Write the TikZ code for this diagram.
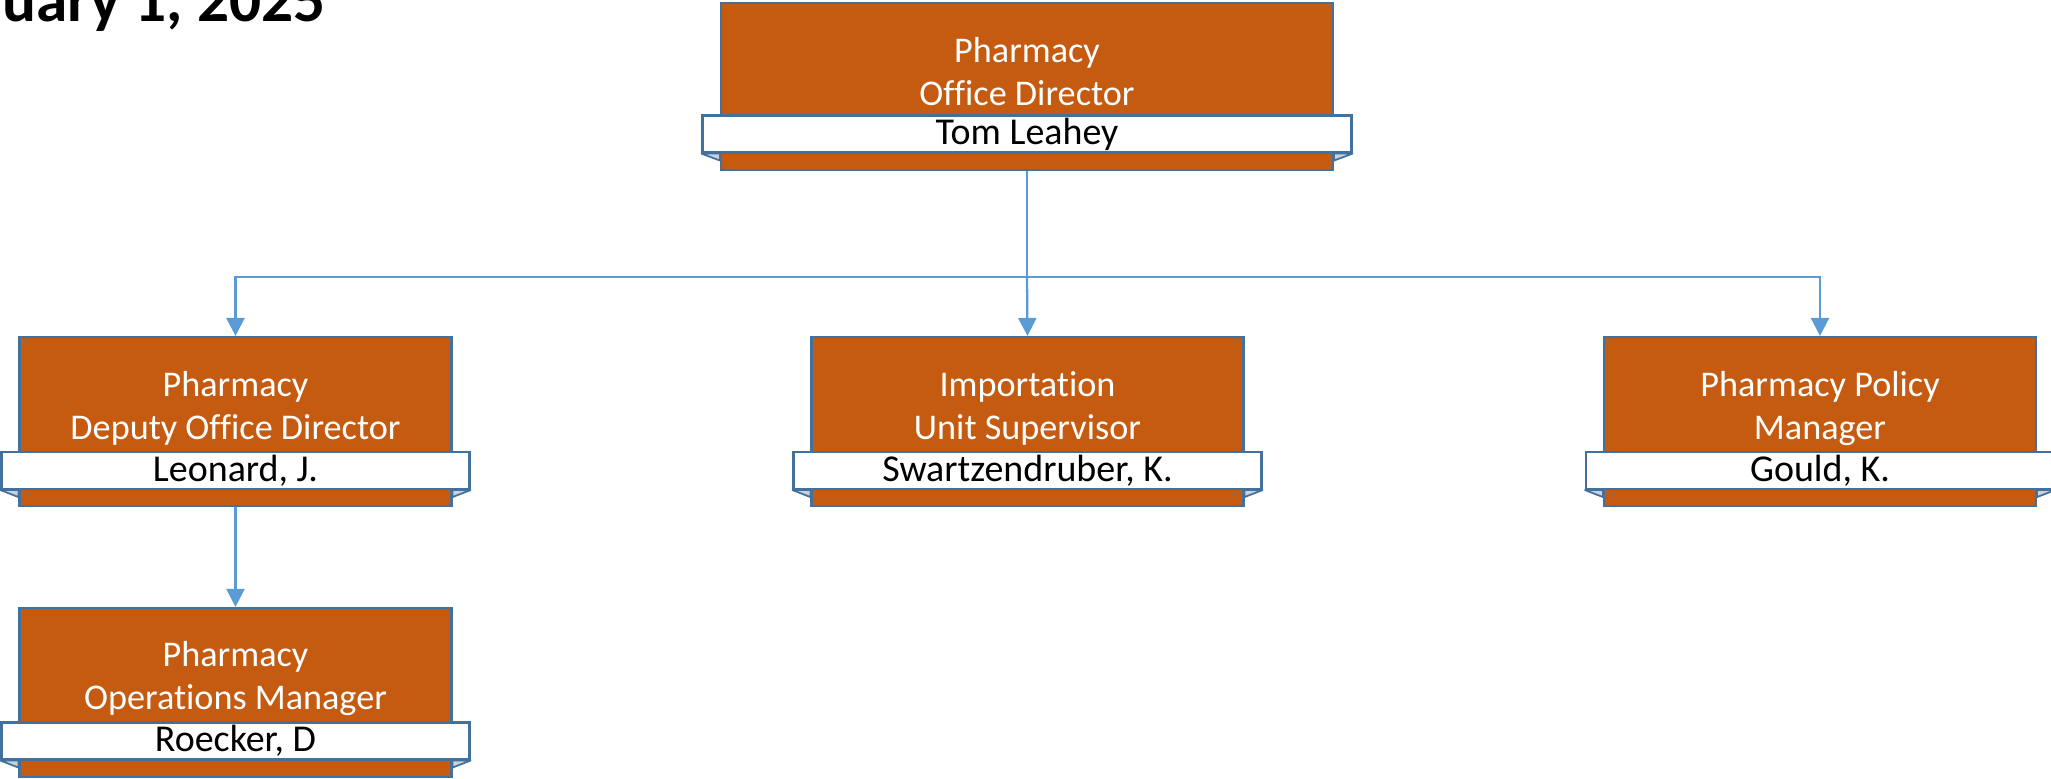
\documentclass[tikz,border=0pt]{standalone}
\usepackage{fontspec}
\setmainfont{Carlito}[Ligatures=NoCommon]
\usepackage{xcolor}
\usepackage{tikz}
\usetikzlibrary{positioning,calc,arrows.meta}

\definecolor{unitorange}{HTML}{C55A11}
\definecolor{edgeblue}{HTML}{41719C}
\definecolor{linkblue}{HTML}{5B9BD5}
\definecolor{foldgrey}{HTML}{C9D1DC}

\begin{document}
\begin{tikzpicture}[
    unitbox/.style={draw=edgeblue, line width=0.6pt, fill=unitorange, minimum width=4.32cm, minimum height=1.69cm, inner sep=0pt},
    unittitle/.style={text=white, align=center, font=\fontsize{10.3}{12.2}\selectfont, inner sep=0pt},
    nameband/.style={draw=edgeblue, line width=0.6pt, fill=white, minimum width=4.68cm, minimum height=0.37cm, inner sep=0pt, font=\fontsize{10.8}{12}\selectfont},
    fold/.style={draw=edgeblue, line width=0.5pt, fill=foldgrey, line join=round},
    link/.style={draw=linkblue, line width=0.65pt, -{Triangle[width=0.18cm,length=0.18cm]}}
]
    \useasboundingbox (0,0) rectangle (20.51,-7.78);

    % date line, cut at the top
    \node[anchor=base west, inner sep=0pt, font=\bfseries\fontsize{18}{20}\selectfont] (date) at (0.02,-0.21) {uary 1, 2025};

    % office director
    \node[unitbox, minimum width=6.12cm, minimum height=1.67cm] (dir) at (10.27,-0.865) {};
    \node[unittitle] (dirT) at (10.27,-0.715) {Pharmacy\\Office Director};
    \node[nameband, minimum width=6.49cm] (dirN) at (10.27,-1.34) {Tom Leahey};

    % second row
    \node[unitbox] (dep) at (2.355,-4.215) {};
    \node[unittitle] (depT) at (2.355,-4.085) {Pharmacy\\Deputy Office Director};
    \node[nameband] (depN) at (2.355,-4.705) {Leonard, J.};

    \node[unitbox] (imp) at (10.275,-4.215) {};
    \node[unittitle] (impT) at (10.275,-4.085) {Importation\\Unit Supervisor};
    \node[nameband] (impN) at (10.275,-4.705) {Swartzendruber, K.};

    \node[unitbox] (pol) at (18.2,-4.215) {};
    \node[unittitle] (polT) at (18.2,-4.085) {Pharmacy Policy\\Manager};
    \node[nameband] (polN) at (18.2,-4.705) {Gould, K.};

    % third row
    \node[unitbox] (ops) at (2.355,-6.925) {};
    \node[unittitle] (opsT) at (2.355,-6.785) {Pharmacy\\Operations Manager};
    \node[nameband] (opsN) at (2.355,-7.41) {Roecker, D};

    % ribbon folds
    \foreach \u in {dir,dep,imp,pol,ops} {
        \draw[fold] (\u N.south west) -- (\u N.south west -| \u.west) -- ($(\u N.south west -| \u.west)+(0,-0.07)$) -- cycle;
        \draw[fold] (\u N.south east) -- (\u N.south east -| \u.east) -- ($(\u N.south east -| \u.east)+(0,-0.07)$) -- cycle;
    }

    % connectors
    \coordinate (split) at (10.27,-2.77);
    \draw[linkblue, line width=0.65pt] (dir.south) -- (split);
    \draw[link] (split) -| (dep.north);
    \draw[link] (split) -- (imp.north);
    \draw[link] (split) -| (pol.north);
    \draw[link] (dep.south) -- (ops.north);
\end{tikzpicture}
\end{document}
